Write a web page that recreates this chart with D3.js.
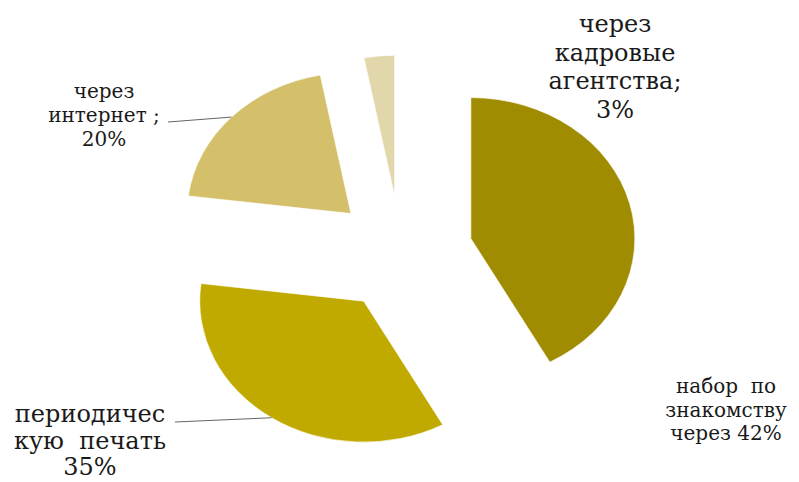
<!DOCTYPE html>
<html>
<head>
<meta charset="utf-8">
<script src="https://cdn.jsdelivr.net/npm/d3@7/dist/d3.min.js"></script>
<style>
  body { margin: 0; background: #fff; }
  text { font-family: "DejaVu Serif", "Liberation Serif", serif; fill: #1a1a1a; white-space: pre; }
</style>
</head>
<body>
<div id="chart"></div>
<script>
// slice values, clockwise from 12 o'clock
var categories = ["набор по знакомству", "периодическую печать", "через интернет", "через кадровые агентства"];
var values = [42, 35, 20, 3];
var colors = ["#a08c00", "#c0aa00", "#d4c06b", "#e2d7ab"];
// label text as it wraps in the picture
var labelLines = [
  ["набор  по", "знакомству", "через 42%"],
  ["периодичес", "кую  печать", "35%"],
  ["через", "интернет ;", "20%"],
  ["через", "кадровые", "агентства;", "3%"]
];

// layout
var W = 799, H = 482;
var cx = 401, cy = 254;
var ry = 141, sx = 164 / 141;   // pie is stretched horizontally
var explode = [62, 57, 59, 58];
var labelPos = [
  { x: 726, y: 393, fs: 20, lh: 23.5 },
  { x: 90,  y: 422, fs: 24, lh: 26.5, lead: [175, 422] },
  { x: 104, y: 98,  fs: 20, lh: 24,   lead: [168, 122] },
  { x: 615, y: 32,  fs: 24, lh: 28.5 }
];

var svg = d3.select("#chart").append("svg")
  .attr("width", W).attr("height", H);

var pie = d3.pie().sort(null).value(function(d){ return d; });
var arcs = pie(values);
var arc = d3.arc().innerRadius(0).outerRadius(ry);

// apex of each exploded slice
arcs.forEach(function(d, i){
  var mid = (d.startAngle + d.endAngle) / 2;
  d.ax = cx + Math.sin(mid) * explode[i] * sx;
  d.ay = cy - Math.cos(mid) * explode[i];
  d.mid = mid;
});

svg.append("g").selectAll("path")
  .data(arcs)
  .enter()
  .append("path")
  .attr("transform", function(d){ return "translate(" + d.ax + "," + d.ay + ") scale(" + sx + ",1)"; })
  .attr("d", arc)
  .attr("fill", function(d, i){ return colors[i]; })
  .attr("stroke", "#fff")
  .attr("stroke-width", 0.6);

// leader lines from the arc edge at mid angle
svg.append("g").selectAll("line")
  .data(arcs.filter(function(d, i){ return labelPos[i].lead; }))
  .enter()
  .append("line")
  .attr("x1", function(d){ return labelPos[d.index].lead[0]; })
  .attr("y1", function(d){ return labelPos[d.index].lead[1]; })
  .attr("x2", function(d){ return d.ax + Math.sin(d.mid) * ry * sx; })
  .attr("y2", function(d){ return d.ay - Math.cos(d.mid) * ry; })
  .attr("stroke", "#666")
  .attr("stroke-width", 1);

var labels = svg.append("g").selectAll("text")
  .data(labelLines)
  .enter()
  .append("text")
  .attr("text-anchor", "middle")
  .attr("font-size", function(d, i){ return labelPos[i].fs; });

labels.each(function(lines, i){
  var p = labelPos[i];
  d3.select(this).selectAll("tspan")
    .data(lines)
    .enter()
    .append("tspan")
    .attr("x", p.x)
    .attr("y", function(l, j){ return p.y + j * p.lh; })
    .text(function(l){ return l; });
});
</script>
</body>
</html>
